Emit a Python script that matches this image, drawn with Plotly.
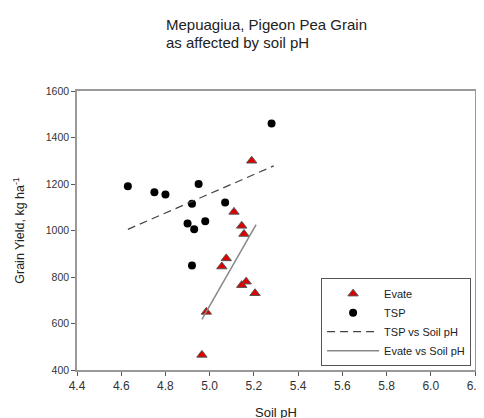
import plotly.graph_objects as go

# Evate (red triangles)
evate_ph = [5.19, 5.11, 5.145, 5.155, 5.075, 5.055, 5.165, 5.145, 5.205, 4.985, 4.965]
evate_yield = [1300, 1080, 1020, 985, 880, 845, 780, 765, 730, 650, 465]

# TSP (black circles)
tsp_ph = [4.63, 4.75, 4.80, 4.92, 4.95, 4.90, 4.93, 4.98, 5.07, 5.28, 4.92]
tsp_yield = [1190, 1165, 1155, 1115, 1200, 1030, 1005, 1040, 1120, 1460, 850]

tsp_fit_ph = [4.63, 5.29]
tsp_fit_yield = [1005, 1278]
evate_fit_ph = [4.965, 5.21]
evate_fit_yield = [618, 1025]

x_ticks = [4.4, 4.6, 4.8, 5.0, 5.2, 5.4, 5.6, 5.8, 6.0, 6.2]
y_ticks = [400, 600, 800, 1000, 1200, 1400, 1600]

title_lines = ["Mepuagiua, Pigeon Pea Grain", "as affected by soil pH"]

FONT = "Liberation Sans, Arial, sans-serif"
PLOT_L, PLOT_R, PLOT_T, PLOT_B = 69, 8, 83, 47
PW = 484 - PLOT_L - PLOT_R
PH = 418 - PLOT_T - PLOT_B

fig = go.Figure()
fig.add_trace(go.Scatter(
    x=evate_ph, y=evate_yield, mode="markers", name="Evate",
    marker=dict(symbol="triangle-up", size=9, color="#dd0000",
                line=dict(color="#555555", width=1))))
fig.add_trace(go.Scatter(
    x=tsp_ph, y=tsp_yield, mode="markers", name="TSP",
    marker=dict(symbol="circle", size=8, color="black",
                line=dict(color="black", width=0))))
fig.add_trace(go.Scatter(
    x=tsp_fit_ph, y=tsp_fit_yield, mode="lines", name="TSP vs Soil pH",
    line=dict(color="#444444", width=1.2, dash="8px,5px")))
fig.add_trace(go.Scatter(
    x=evate_fit_ph, y=evate_fit_yield, mode="lines", name="Evate vs Soil pH",
    line=dict(color="#888888", width=1.5)))

annotations = []
for line, top_px in zip(title_lines, [3, 22]):
    annotations.append(dict(
        text=line, xref="paper", yref="paper",
        x=(158 - PLOT_L) / PW, y=1 + (PLOT_T - top_px) / PH,
        xanchor="left", yanchor="top", align="left", showarrow=False,
        font=dict(size=15, family=FONT, color="#222222")))

fig.update_layout(
    width=484, height=418,
    margin=dict(l=PLOT_L, r=PLOT_R, t=PLOT_T, b=PLOT_B),
    paper_bgcolor="white", plot_bgcolor="white",
    font=dict(family=FONT, size=11, color="#222222"),
    showlegend=True,
    legend=dict(
        x=(472 - PLOT_L) / PW, y=(371 - 367) / PH,
        xanchor="right", yanchor="bottom",
        bordercolor="#555555", borderwidth=1, bgcolor="white",
        font=dict(size=11, family=FONT, color="#222222"),
        itemwidth=52, tracegroupgap=0,
    ),
    annotations=annotations,
)

fig.update_xaxes(
    range=[4.4, 6.2], tickvals=x_ticks, ticktext=[f"{v:.1f}" for v in x_ticks],
    showgrid=False, zeroline=False, showline=True, linecolor="#999999", linewidth=1.5,
    mirror=True, ticks="outside", ticklen=4, tickcolor="#555555",
    tickfont=dict(size=12, color="#333333"),
    title=dict(text="Soil pH", font=dict(size=13, color="#222222"), standoff=16),
)
fig.update_yaxes(
    range=[400, 1600], tickvals=y_ticks, ticktext=[str(v) for v in y_ticks],
    showgrid=False, zeroline=False, showline=True, linecolor="#999999", linewidth=1.5,
    mirror=True, ticks="outside", ticklen=4, tickcolor="#555555",
    tickfont=dict(size=10.5, color="#333333"),
    title=dict(text="Grain Yield, kg ha<sup>-1</sup>", font=dict(size=12.5, color="#222222"), standoff=18),
)

fig.write_html("out.html")
